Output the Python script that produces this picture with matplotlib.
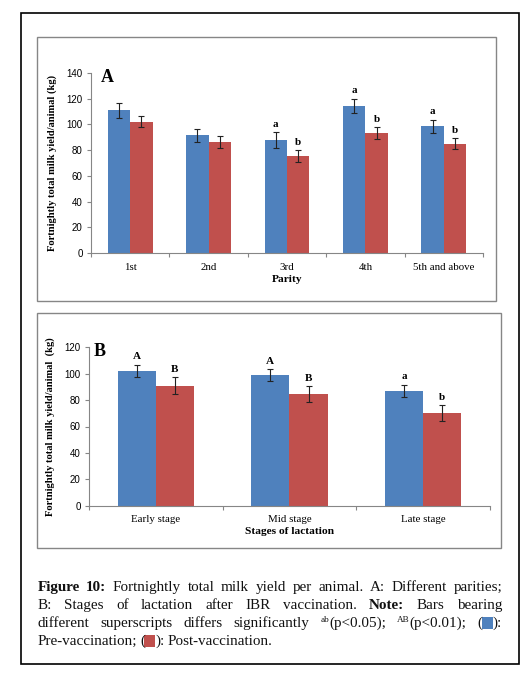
import numpy as np
import matplotlib
matplotlib.use("Agg")
import matplotlib.pyplot as plt
from matplotlib.patches import Rectangle

# panel A: parity
parity = ['1st', '2nd', '3rd', '4th', '5th and above']
parity_pre = [111, 91.5, 88, 114.5, 98.5]
parity_post = [102, 86, 75.5, 93, 85]
parity_pre_err = [6, 5.2, 6, 5.3, 5.2]
parity_post_err = [4.3, 4.7, 4.4, 4.7, 4.3]
parity_pre_sig = ['', '', 'a', 'a', 'a']
parity_post_sig = ['', '', 'b', 'b', 'b']

# panel B: stage of lactation
stage = ['Early stage', 'Mid stage', 'Late stage']
stage_pre = [102, 99, 87]
stage_post = [91, 84.5, 70]
stage_pre_err = [4.7, 4.4, 4.7]
stage_post_err = [6.2, 6, 6]
stage_pre_sig = ['A', 'A', 'a']
stage_post_sig = ['B', 'B', 'b']

BLUE = '#4F81BD'
RED = '#C0504D'
GRAY = '#868686'
SERIF = 'Liberation Serif'
SANS = 'Liberation Sans'

W, H = 527, 674
fig = plt.figure(figsize=(W / 100, H / 100), dpi=100)


def px(x0, y0, x1, y1):
    # pixel box (top-left origin) -> figure fraction rect
    return [x0 / W, 1 - y1 / H, (x1 - x0) / W, (y1 - y0) / H]


def draw_panel(rect, cats, pre, post, pre_err, post_err, pre_sig, post_sig,
               ymax, xlabel, ylabel, letter, letter_xy):
    ax = fig.add_axes(rect)
    x = np.arange(len(cats))
    w = 0.286
    ekw = dict(ecolor='#222222', elinewidth=0.8, capsize=2.2, capthick=0.8)
    ax.bar(x - w / 2, pre, w, color=BLUE, yerr=pre_err, error_kw=ekw, zorder=2)
    ax.bar(x + w / 2, post, w, color=RED, yerr=post_err, error_kw=ekw, zorder=2)
    for xi, v, e, s in zip(x - w / 2, pre, pre_err, pre_sig):
        if s:
            ax.annotate(s, (xi, v + e), xytext=(0, 2.5), textcoords='offset points',
                        ha='center', va='bottom', fontsize=8, fontweight='bold', family=SERIF)
    for xi, v, e, s in zip(x + w / 2, post, post_err, post_sig):
        if s:
            ax.annotate(s, (xi, v + e), xytext=(0, 2.5), textcoords='offset points',
                        ha='center', va='bottom', fontsize=8, fontweight='bold', family=SERIF)
    ax.set_xlim(-0.5, len(cats) - 0.5)
    ax.set_ylim(0, ymax)
    ax.set_yticks(np.arange(0, ymax + 1, 20))
    ax.set_xticks(x)
    ax.set_xticklabels(cats, family=SERIF, fontsize=7.8)
    ax.set_xticks(np.arange(-0.5, len(cats)), minor=True)
    ax.tick_params(axis='x', which='major', length=0, pad=7)
    ax.tick_params(axis='x', which='minor', length=3, color=GRAY, width=0.8)
    ax.tick_params(axis='y', length=3, color=GRAY, width=0.8, labelsize=7, pad=3)
    for t in ax.get_yticklabels():
        t.set_family(SANS)
    for sp in ['top', 'right']:
        ax.spines[sp].set_visible(False)
    for sp in ['left', 'bottom']:
        ax.spines[sp].set_color(GRAY)
        ax.spines[sp].set_linewidth(0.8)
    ax.set_facecolor('none')
    ax.set_xlabel(xlabel, family=SERIF, fontweight='bold', fontsize=8.2, labelpad=2)
    ax.set_ylabel(ylabel, family=SERIF, fontweight='bold', fontsize=7.6, labelpad=7)
    fig.text(letter_xy[0] / W, 1 - letter_xy[1] / H, letter, family=SERIF,
             fontweight='bold', fontsize=13, ha='center', va='center')
    return ax


# frames
fig.add_artist(Rectangle((21 / W, 1 - 664 / H), 498 / W, 651 / H, transform=fig.transFigure,
                         fill=False, edgecolor='black', lw=1.2))
fig.add_artist(Rectangle((37 / W, 1 - 301 / H), 459 / W, 264 / H, transform=fig.transFigure,
                         fill=False, edgecolor=GRAY, lw=1.0))
fig.add_artist(Rectangle((37 / W, 1 - 548 / H), 464 / W, 235 / H, transform=fig.transFigure,
                         fill=False, edgecolor=GRAY, lw=1.0))

draw_panel(px(91, 73, 483, 253), parity, parity_pre, parity_post, parity_pre_err,
           parity_post_err, parity_pre_sig, parity_post_sig, 140, 'Parity',
           'Fortnightly total milk yield/animal (kg)', 'A', (107, 77))
draw_panel(px(89, 347.3, 490, 505.7), stage, stage_pre, stage_post, stage_pre_err,
           stage_post_err, stage_pre_sig, stage_post_sig, 120, 'Stages of lactation',
           'Fortnightly total milk yield/animal  (kg)', 'B', (100, 351))

# caption, justified
FS = 10.9
caption = [
    [[('Figure', 'b')], [('10:', 'b')], [('Fortnightly', 'n')], [('total', 'n')], [('milk', 'n')],
     [('yield', 'n')], [('per', 'n')], [('animal.', 'n')], [('A:', 'n')], [('Different', 'n')],
     [('parities;', 'n')]],
    [[('B:', 'n')], [('Stages', 'n')], [('of', 'n')], [('lactation', 'n')], [('after', 'n')],
     [('IBR', 'n')], [('vaccination.', 'n')], [('Note:', 'b')], [('Bars', 'n')], [('bearing', 'n')]],
    [[('different', 'n')], [('superscripts', 'n')], [('differs', 'n')], [('significantly', 'n')],
     [('ab', 's'), ('(p<0.05);', 'n')], [('AB', 's'), ('(p<0.01);', 'n')],
     [('(', 'n'), ('', 'blue'), ('):', 'n')]],
    [[('Pre-vaccination;', 'n')], [('(', 'n'), ('', 'red'), ('):', 'n')], [('Post-vaccination.', 'n')]],
]
baselines = [591, 609, 627, 645]
left, right = 37.5, 502
fig.canvas.draw()
r = fig.canvas.get_renderer()


def make_seg(text, style):
    if style in ('blue', 'red'):
        return None, 10
    kw = dict(family=SERIF, fontsize=FS, va='baseline', ha='left', color='#111111')
    if style == 'b':
        kw['fontweight'] = 'bold'
    if style == 's':
        kw['fontsize'] = FS * 0.6
    t = fig.text(0, 0, text, **kw)
    return t, t.get_window_extent(r).width


for li, line in enumerate(caption):
    words = []
    for word in line:
        segs = [(make_seg(s, st), st) for s, st in word]
        words.append((segs, sum(m[1] for m, _ in segs)))
    total = sum(wd for _, wd in words)
    if li < len(caption) - 1:
        gap = (right - left - total) / (len(words) - 1)
    else:
        gap = FS * 0.3
    xpos = left
    yb = baselines[li]
    for segs, wd in words:
        for (t, sw), st in segs:
            if st in ('blue', 'red'):
                fig.add_artist(Rectangle(((xpos - 1) / W, 1 - (yb + 2) / H), (sw + 1) / W, 12 / H,
                                         transform=fig.transFigure,
                                         color=BLUE if st == 'blue' else RED, lw=0))
            else:
                dy = 4.5 if st == 's' else 0
                t.set_position((xpos / W, 1 - (yb - dy) / H))
            xpos += sw
        xpos += gap

fig.savefig('out.png', dpi=100)
